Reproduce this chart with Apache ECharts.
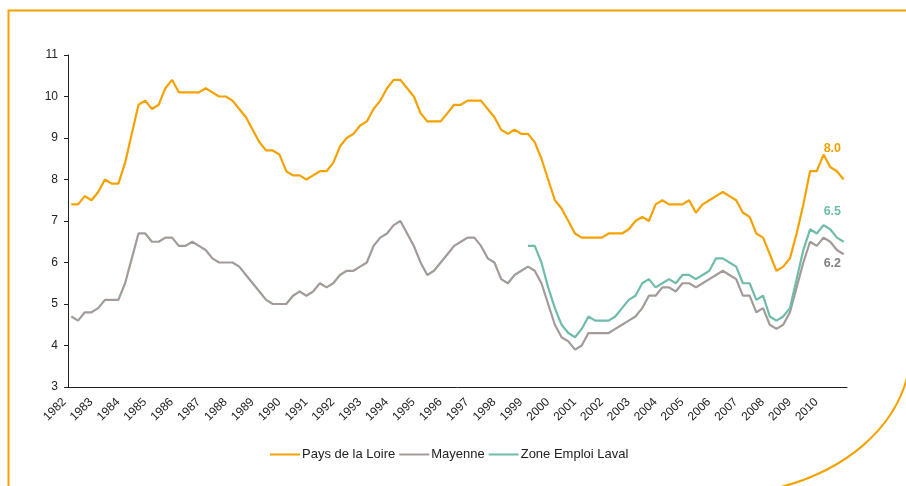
<!DOCTYPE html>
<html>
<head>
<meta charset="utf-8">
<script src="https://cdn.jsdelivr.net/npm/echarts@6/dist/echarts.min.js"></script>
<style>
  html, body { margin: 0; padding: 0; background: #fff; }
  #chart { width: 906px; height: 486px; }
</style>
</head>
<body>
<div id="chart"></div>
<script>
// années affichées sur l'axe (une étiquette par T1)
var years = [1982, 1983, 1984, 1985, 1986, 1987, 1988, 1989, 1990, 1991, 1992, 1993, 1994, 1995,
  1996, 1997, 1998, 1999, 2000, 2001, 2002, 2003, 2004, 2005, 2006, 2007, 2008, 2009, 2010];
var yTicks = [3, 4, 5, 6, 7, 8, 9, 10, 11];

// taux de chômage trimestriel (%)
var paysLoire = [
  7.4, 7.4, 7.6, 7.5, 7.7, 8.0, 7.9, 7.9, 8.4, 9.1, 9.8, 9.9, 9.7, 9.8, 10.2, 10.4,
  10.1, 10.1, 10.1, 10.1, 10.2, 10.1, 10.0, 10.0, 9.9, 9.7, 9.5, 9.2, 8.9, 8.7, 8.7, 8.6,
  8.2, 8.1, 8.1, 8.0, 8.1, 8.2, 8.2, 8.4, 8.8, 9.0, 9.1, 9.3, 9.4, 9.7, 9.9, 10.2,
  10.4, 10.4, 10.2, 10.0, 9.6, 9.4, 9.4, 9.4, 9.6, 9.8, 9.8, 9.9, 9.9, 9.9, 9.7, 9.5,
  9.2, 9.1, 9.2, 9.1, 9.1, 8.9, 8.5, 8.0, 7.5, 7.3, 7.0, 6.7, 6.6, 6.6, 6.6, 6.6,
  6.7, 6.7, 6.7, 6.8, 7.0, 7.1, 7.0, 7.4, 7.5, 7.4, 7.4, 7.4, 7.5, 7.2, 7.4, 7.5,
  7.6, 7.7, 7.6, 7.5, 7.2, 7.1, 6.7, 6.6, 6.2, 5.8, 5.9, 6.1, 6.7, 7.4, 8.2, 8.2,
  8.6, 8.3, 8.2, 8.0
];
var mayenne = [
  4.7, 4.6, 4.8, 4.8, 4.9, 5.1, 5.1, 5.1, 5.5, 6.1, 6.7, 6.7, 6.5, 6.5, 6.6, 6.6,
  6.4, 6.4, 6.5, 6.4, 6.3, 6.1, 6.0, 6.0, 6.0, 5.9, 5.7, 5.5, 5.3, 5.1, 5.0, 5.0,
  5.0, 5.2, 5.3, 5.2, 5.3, 5.5, 5.4, 5.5, 5.7, 5.8, 5.8, 5.9, 6.0, 6.4, 6.6, 6.7,
  6.9, 7.0, 6.7, 6.4, 6.0, 5.7, 5.8, 6.0, 6.2, 6.4, 6.5, 6.6, 6.6, 6.4, 6.1, 6.0,
  5.6, 5.5, 5.7, 5.8, 5.9, 5.8, 5.5, 5.0, 4.5, 4.2, 4.1, 3.9, 4.0, 4.3, 4.3, 4.3,
  4.3, 4.4, 4.5, 4.6, 4.7, 4.9, 5.2, 5.2, 5.4, 5.4, 5.3, 5.5, 5.5, 5.4, 5.5, 5.6,
  5.7, 5.8, 5.7, 5.6, 5.2, 5.2, 4.8, 4.9, 4.5, 4.4, 4.5, 4.8, 5.4, 6.0, 6.5, 6.4,
  6.6, 6.5, 6.3, 6.2
];
// zone d'emploi de Laval : série disponible à partir de 1999 T1
var lavalStartYear = 1999;
var laval = [
  6.4, 6.4, 6.0, 5.4, 4.9, 4.5, 4.3, 4.2, 4.4, 4.7, 4.6, 4.6, 4.6, 4.7, 4.9, 5.1,
  5.2, 5.5, 5.6, 5.4, 5.5, 5.6, 5.5, 5.7, 5.7, 5.6, 5.7, 5.8, 6.1, 6.1, 6.0, 5.9,
  5.5, 5.5, 5.1, 5.2, 4.7, 4.6, 4.7, 4.9, 5.6, 6.3, 6.8, 6.7, 6.9, 6.8, 6.6, 6.5
];

var ORANGE = '#f5a200', GREY = '#a29b98', TEAL = '#6fbcaa';
var FONT = 'Liberation Sans, Arial, sans-serif';

var categories = [];
years.forEach(function (y) {
  for (var q = 1; q <= 4; q++) categories.push(y + ' T' + q);
});

var lavalData = [];
var offset = (lavalStartYear - years[0]) * 4;
for (var i = 0; i < offset; i++) lavalData.push(null);
lavalData = lavalData.concat(laval);

function endLabel(color, offs) {
  return {
    show: true, offset: offs, distance: 0,
    formatter: function (p) { return Number(p.value).toFixed(1); },
    color: color, fontWeight: 'bold', fontSize: 12.5, fontFamily: FONT
  };
}

var myChart = echarts.init(document.getElementById('chart'));
var option = {
  animation: false,
  backgroundColor: '#fff',
  textStyle: { fontFamily: FONT },
  graphic: [
    {
      type: 'polyline', silent: true,
      shape: { points: [[8.5, 490], [8.5, 10.5], [910, 10.5]] },
      style: { stroke: ORANGE, lineWidth: 2, fill: null }
    },
    {
      type: 'bezierCurve', silent: true,
      shape: { x1: 781, y1: 487, cpx1: 845, cpy1: 470, cpx2: 893, cpy2: 430, x2: 907, y2: 378 },
      style: { stroke: ORANGE, lineWidth: 2, fill: null }
    }
  ],
  grid: { left: 68, right: 59, top: 55, bottom: 99 },
  legend: {
    left: 270, top: 448, padding: 0,
    itemWidth: 30, itemHeight: 2, itemGap: 4,
    icon: 'rect',
    textStyle: { fontSize: 13, color: '#222', padding: [0, 0, 0, -3] },
    data: ['Pays de la Loire', 'Mayenne', 'Zone Emploi Laval']
  },
  xAxis: {
    type: 'category',
    data: categories,
    boundaryGap: true,
    axisLine: { lineStyle: { color: '#222', width: 1 } },
    axisTick: { interval: 0, length: 3, lineStyle: { color: '#222' } },
    axisLabel: {
      interval: function (idx) { return idx % 4 === 0; },
      formatter: function (v) { return v.slice(0, 4); },
      rotate: 45, fontSize: 12, color: '#222', margin: 6,
      padding: [0, 10, 0, 0]
    },
    splitLine: { show: false }
  },
  yAxis: {
    type: 'value',
    min: yTicks[0], max: yTicks[yTicks.length - 1], interval: 1,
    axisLine: { show: true, lineStyle: { color: '#222', width: 1 } },
    axisTick: { show: true, length: 4, lineStyle: { color: '#222' } },
    axisLabel: { fontSize: 12, color: '#222', margin: 10 },
    splitLine: { show: false }
  },
  series: [
    {
      name: 'Pays de la Loire', type: 'line', showSymbol: false, symbol: 'none',
      data: paysLoire,
      endLabel: endLabel(ORANGE, [-20, -31]),
      lineStyle: { color: ORANGE, width: 2.2 }, itemStyle: { color: ORANGE }, z: 3
    },
    {
      name: 'Mayenne', type: 'line', showSymbol: false, symbol: 'none',
      data: mayenne,
      endLabel: endLabel('#808080', [-20, 9]),
      lineStyle: { color: GREY, width: 2.2 }, itemStyle: { color: GREY }, z: 2
    },
    {
      name: 'Zone Emploi Laval', type: 'line', showSymbol: false, symbol: 'none',
      data: lavalData,
      endLabel: endLabel(TEAL, [-20, -30]),
      lineStyle: { color: TEAL, width: 2.2 }, itemStyle: { color: TEAL }, z: 2
    }
  ]
};
myChart.setOption(option);
window.addEventListener('resize', function () { myChart.resize(); });
</script>
</body>
</html>
